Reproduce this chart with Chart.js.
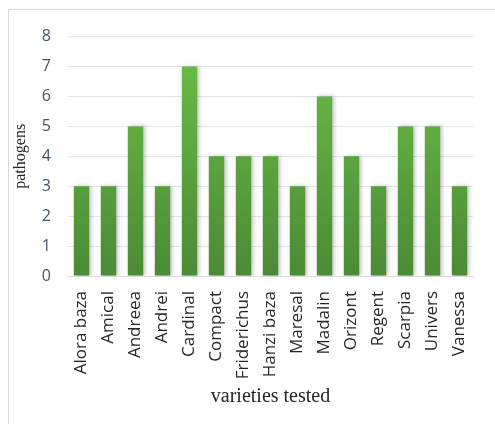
<!DOCTYPE html>
<html>
<head>
<meta charset="utf-8">
<script src="https://cdn.jsdelivr.net/npm/chart.js@4"></script>
<style>
    html, body { margin: 0; padding: 0; background: #fff; overflow: hidden; }
    #wrap {
        position: absolute; left: 8px; top: 9px;
        width: 488px; height: 416px;
        border: 1px solid #d9d9d9; box-sizing: border-box;
    }
</style>
</head>
<body>
<div id="wrap"><canvas id="chart"></canvas></div>
<script>
// Data
const varieties = ['Alora baza', 'Amical', 'Andreea', 'Andrei', 'Cardinal', 'Compact', 'Friderichus',
    'Hanzi baza', 'Maresal', 'Madalin', 'Orizont', 'Regent', 'Scarpia', 'Univers', 'Vanessa'];
const pathogens = [3, 3, 5, 3, 7, 4, 4, 4, 3, 6, 4, 3, 5, 5, 3];
const yTicks = [0, 1, 2, 3, 4, 5, 6, 7, 8];

// Vertical green gradient, light at top and darker at the base
function barGradient(context) {
    const area = context.chart.chartArea;
    if (!area) return '#5fa843';
    const g = context.chart.ctx.createLinearGradient(0, area.top, 0, area.bottom);
    g.addColorStop(0, '#6dc046');
    g.addColorStop(1, '#4b8a36');
    return g;
}

// Soft shadow on the right of each bar
const barShadow = {
    id: 'barShadow',
    beforeDatasetDraw(chart) {
        const ctx = chart.ctx;
        ctx.save();
        ctx.shadowColor = 'rgba(0,0,0,0.25)';
        ctx.shadowBlur = 4;
        ctx.shadowOffsetX = 2;
        ctx.shadowOffsetY = 0;
    },
    afterDatasetDraw(chart) {
        chart.ctx.restore();
    }
};

new Chart(document.getElementById('chart'), {
    type: 'bar',
    data: {
        labels: varieties,
        datasets: [{
            label: 'pathogens',
            data: pathogens,
            backgroundColor: barGradient,
            borderWidth: 0,
            categoryPercentage: 1,
            barPercentage: 0.57
        }]
    },
    options: {
        responsive: true,
        maintainAspectRatio: false,
        animation: false,
        layout: { padding: { top: 25, right: 3, left: 0, bottom: 0 } },
        plugins: {
            legend: { display: false },
            tooltip: { enabled: false }
        },
        scales: {
            x: {
                afterFit: (axis) => { axis.height = 148; },
                grid: { display: false, drawTicks: false },
                border: { color: '#d9d9d9', width: 1 },
                ticks: {
                    color: '#262626',
                    font: { family: 'Open Sans', size: 17 },
                    maxRotation: 90,
                    minRotation: 90,
                    autoSkip: false,
                    padding: 15
                },
                title: {
                    display: true,
                    text: 'varieties tested',
                    color: '#262626',
                    font: { family: 'Liberation Serif', size: 20 },
                    padding: { top: 0, bottom: 15 }
                }
            },
            y: {
                min: 0,
                max: 8,
                afterBuildTicks: (axis) => { axis.ticks = yTicks.map(v => ({ value: v })); },
                afterFit: (axis) => { axis.width = 59; },
                grid: { color: '#dfe3ea', lineWidth: 1, drawTicks: false },
                border: { display: false },
                ticks: {
                    color: '#44546a',
                    font: { family: 'Open Sans', size: 16 },
                    padding: 17
                },
                title: {
                    display: true,
                    text: 'pathogens',
                    color: '#262626',
                    font: { family: 'Liberation Serif', size: 16 },
                    padding: { top: 2, bottom: 0 }
                }
            }
        }
    },
    plugins: [barShadow]
});
</script>
</body>
</html>
